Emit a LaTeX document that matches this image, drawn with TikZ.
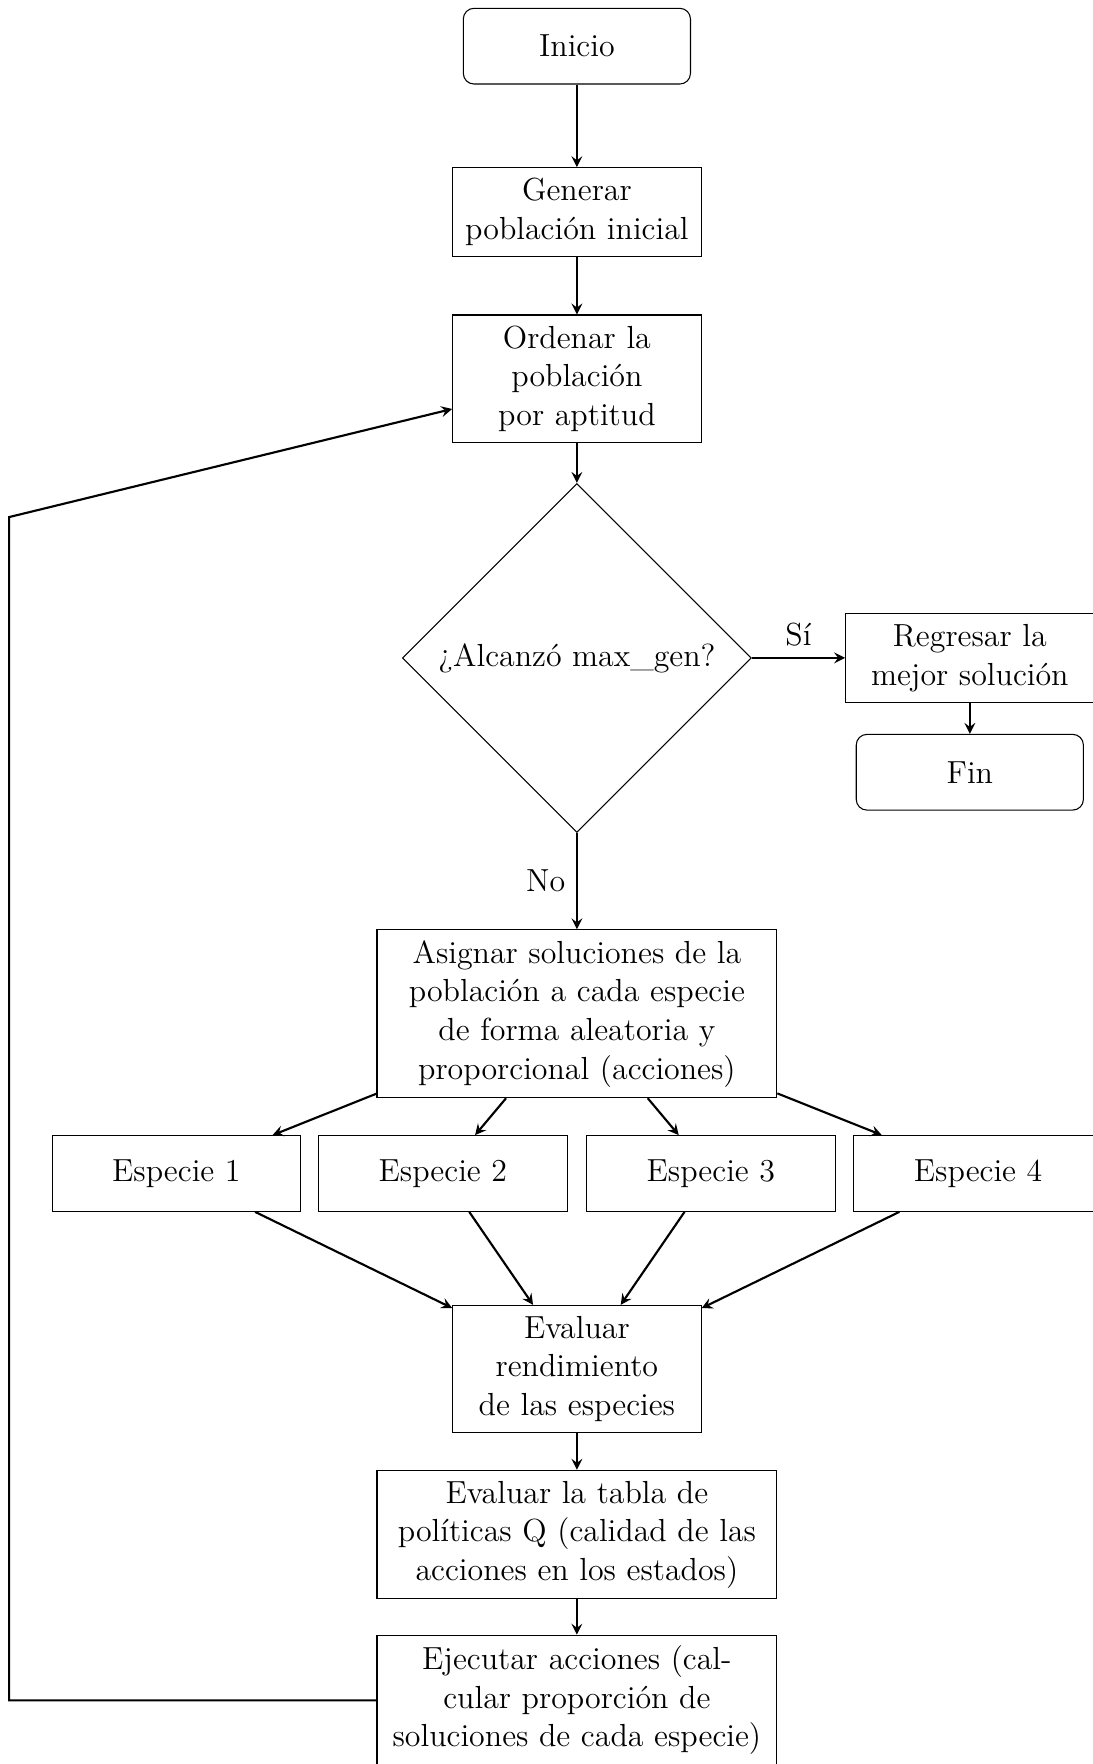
\documentclass[tikz,border=0pt,12pt]{standalone}
\usepackage{amsmath}
\usepackage{tikz}
\usetikzlibrary{arrows.meta,shapes.geometric,calc}

\begin{document}
\begin{tikzpicture}[
  term/.style={draw=black, rectangle, rounded corners, minimum width=3cm,
               minimum height=1cm, text centered},
  proc/.style={draw=black, rectangle, minimum width=3cm, minimum height=1cm,
               text width=3cm, text centered},
  wproc/.style={proc, text width=5cm},
  decis/.style={draw=black, diamond, aspect=1, text centered},
  fl/.style={thick, ->, >=stealth},
]
\useasboundingbox (0,0) rectangle (14.43,-23.30);

% ---------- main column ----------
\node[term] (inicio) at (7.62,-0.61) {Inicio};
\node[proc] (gen) at (7.62,-2.80) {Generar población inicial};
\node[proc] (ord) at (7.62,-5.00) {Ordenar la población por aptitud};
\node[decis] (alc) at (7.62,-8.69) {¿Alcanzó max\_gen?};

% ---------- exit ----------
\node[proc] (reg) at (12.81,-8.69) {Regresar la mejor solución};
\node[term] (fin) at (12.81,-10.20) {Fin};

% ---------- species ----------
\node[wproc] (asig) at (7.62,-13.39)
  {Asignar soluciones de la población a cada especie de forma aleatoria y
   proporcional (acciones)};
\foreach \i/\x in {1/2.33,2/5.85,3/9.39,4/12.92} {
  \node[proc] (esp\i) at (\x,-15.50) {Especie \i};
}
\node[proc] (evr) at (7.62,-18.08) {Evaluar rendimiento de las especies};
\node[wproc] (tab) at (7.62,-20.27)
  {Evaluar la tabla de políticas Q (calidad de las acciones en los estados)};
\node[wproc] (eje) at (7.62,-22.46)
  {Ejecutar acciones (calcular proporción de soluciones de cada especie)};

% ---------- connectors ----------
\draw[fl] (inicio) -- (gen);
\draw[fl] (gen) -- (ord);
\draw[fl] (ord) -- (alc);
\draw[fl] (alc) -- node[above] {Sí} (reg);
\draw[fl] (reg) -- (fin);
\draw[fl] (alc) -- node[left] {No} (asig);
\foreach \i in {1,...,4} {
  \draw[fl] (asig) -- (esp\i);
  \draw[fl] (esp\i) -- (evr);
}
\draw[fl] (evr) -- (tab);
\draw[fl] (tab) -- (eje);
\coordinate (lp) at (0.12,-6.83);
\draw[fl] (eje.west) -| (lp) -- (ord);
\end{tikzpicture}
\end{document}
